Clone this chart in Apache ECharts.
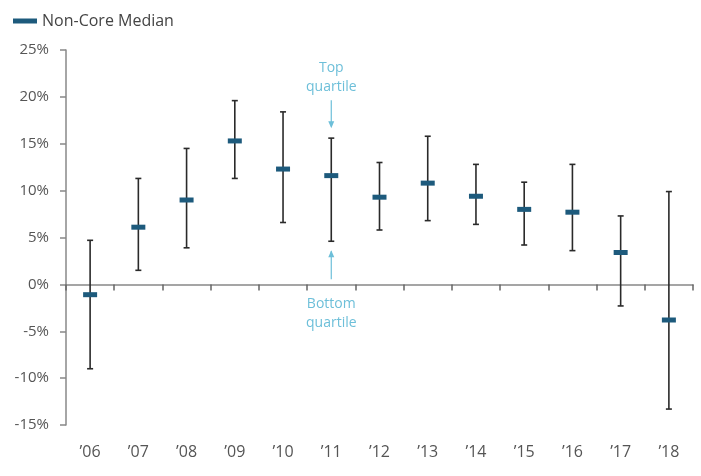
<!DOCTYPE html>
<html><head><meta charset="utf-8">
<script src="https://cdn.jsdelivr.net/npm/echarts@6/dist/echarts.min.js"></script>
<style>html,body{margin:0;padding:0;background:#fff}#c{width:701px;height:476px}</style>
</head><body><div id="c"></div>
<script>
var categories = ['\u201906','\u201907','\u201908','\u201909','\u201910','\u201911','\u201912','\u201913','\u201914','\u201915','\u201916','\u201917','\u201918'];
var medianValues = [-1.1, 6.1, 9.0, 15.3, 12.3, 11.6, 9.3, 10.8, 9.4, 8.0, 7.7, 3.4, -3.8];
var topQuartile = [4.7, 11.3, 14.5, 19.6, 18.4, 15.6, 13.0, 15.8, 12.8, 10.9, 12.8, 7.3, 9.9];
var bottomQuartile = [-9.0, 1.5, 3.9, 11.3, 6.6, 4.6, 5.8, 6.8, 6.4, 4.2, 3.6, -2.3, -13.3];
var yTicks = [-15, -10, -5, 0, 5, 10, 15, 20, 25];
var annotationIndex = 5;

var FONT = 'Open Sans';
var chart = echarts.init(document.getElementById('c'));
var barData = categories.map(function(c, i){ return [i, bottomQuartile[i], topQuartile[i]]; });

chart.setOption({
  animation: false,
  legend: {
    left: 8, top: 8,
    itemWidth: 24, itemHeight: 5, itemGap: 10,
    icon: 'rect',
    itemStyle: {borderWidth: 0},
    textStyle: {fontFamily: FONT, fontSize: 16, color: '#444'},
    data: ['Non-Core Median']
  },
  grid: {left: 66, right: 8, top: 50, bottom: 51},
  xAxis: [{
    type: 'category', data: categories,
    axisLine: {onZero: true, lineStyle: {color: '#888', width: 1.5}},
    axisTick: {show: true, length: 6, lineStyle: {color: '#666', width: 1.5}},
    axisLabel: {show: false}
  }, {
    type: 'category', data: categories, position: 'bottom',
    axisLine: {show: false, onZero: false}, axisTick: {show: false},
    axisLabel: {fontFamily: FONT, fontSize: 16, color: '#555', margin: 19}
  }],
  yAxis: {
    type: 'value', min: yTicks[0], max: yTicks[yTicks.length-1], interval: 5,
    splitLine: {show: false},
    axisLine: {show: true, lineStyle: {color: '#888', width: 1.5}},
    axisTick: {show: true, length: 6, lineStyle: {color: '#888', width: 1.5}},
    axisLabel: {fontFamily: FONT, fontSize: 15, color: '#555', margin: 17, formatter: '{value}%'}
  },
  series: [{
    type: 'custom', name: 'range', xAxisIndex: 0,
    data: barData,
    z: 2,
    renderItem: function(params, api){
      var x = api.value(0);
      var lo = api.coord([x, api.value(1)]);
      var hi = api.coord([x, api.value(2)]);
      var cap = 3;
      var st = {stroke: '#2a2a2a', lineWidth: 1.6};
      return {type: 'group', children: [
        {type: 'line', shape: {x1: hi[0], y1: hi[1], x2: lo[0], y2: lo[1]}, style: st},
        {type: 'line', shape: {x1: hi[0]-cap, y1: hi[1], x2: hi[0]+cap, y2: hi[1]}, style: st},
        {type: 'line', shape: {x1: lo[0]-cap, y1: lo[1], x2: lo[0]+cap, y2: lo[1]}, style: st}
      ]};
    }
  }, {
    type: 'scatter', name: 'Non-Core Median', xAxisIndex: 0,
    data: medianValues,
    symbol: 'rect', symbolSize: [14, 5],
    itemStyle: {color: '#1d5a7c', opacity: 1},
    z: 3
  }, {
    type: 'custom', name: 'annot', xAxisIndex: 0, silent: true,
    data: [[annotationIndex, topQuartile[annotationIndex], bottomQuartile[annotationIndex]]],
    z: 4,
    renderItem: function(params, api){
      var x = api.value(0);
      var hi = api.coord([x, api.value(1)]);
      var lo = api.coord([x, api.value(2)]);
      var col = '#6dbfd9';
      var ts = {fill: col, fontFamily: FONT, fontSize: 14, align: 'center', verticalAlign: 'middle'};
      return {type: 'group', children: [
        {type: 'text', style: Object.assign({}, ts, {x: hi[0], y: hi[1]-70, text: 'Top'})},
        {type: 'text', style: Object.assign({}, ts, {x: hi[0], y: hi[1]-51, text: 'quartile'})},
        {type: 'line', shape: {x1: hi[0], y1: hi[1]-38, x2: hi[0], y2: hi[1]-12}, style: {stroke: col, lineWidth: 1.2}},
        {type: 'polygon', shape: {points: [[hi[0]-3, hi[1]-17], [hi[0]+3, hi[1]-17], [hi[0], hi[1]-10]]}, style: {fill: col}},
        {type: 'line', shape: {x1: lo[0], y1: lo[1]+10, x2: lo[0], y2: lo[1]+38}, style: {stroke: col, lineWidth: 1.2}},
        {type: 'polygon', shape: {points: [[lo[0]-3, lo[1]+16], [lo[0]+3, lo[1]+16], [lo[0], lo[1]+9]]}, style: {fill: col}},
        {type: 'text', style: Object.assign({}, ts, {x: lo[0], y: lo[1]+63, text: 'Bottom'})},
        {type: 'text', style: Object.assign({}, ts, {x: lo[0], y: lo[1]+82, text: 'quartile'})}
      ]};
    }
  }]
});
</script>
</body></html>
